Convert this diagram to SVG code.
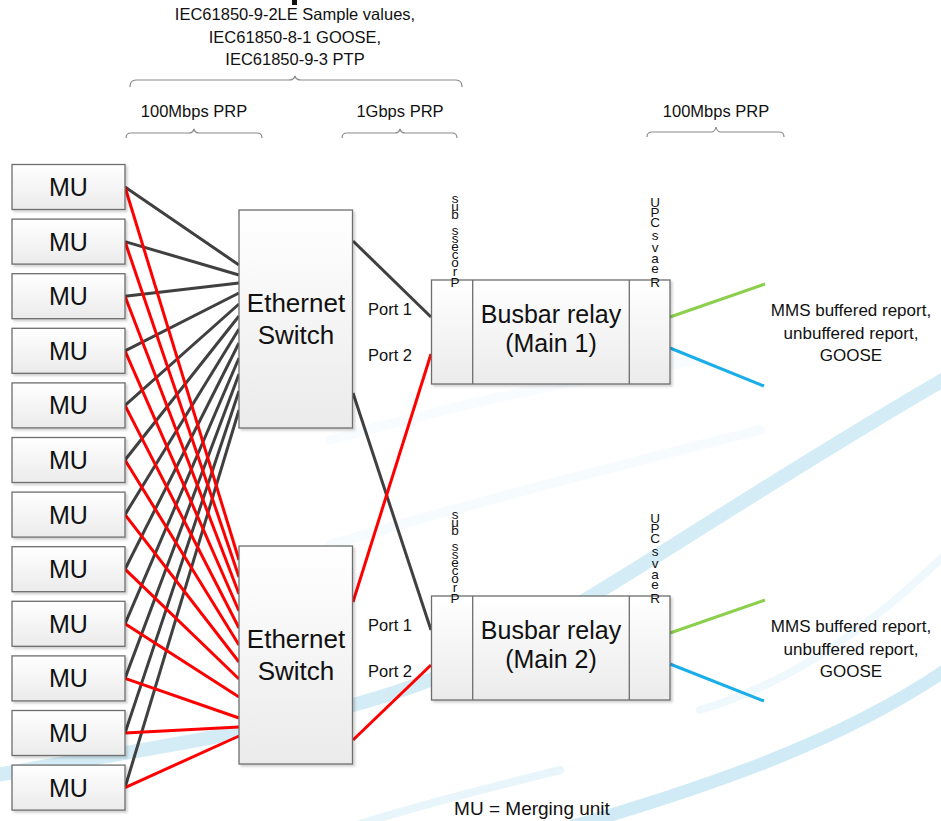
<svg xmlns="http://www.w3.org/2000/svg" width="941" height="821" viewBox="0 0 941 821">
<defs>
<linearGradient id="boxg" x1="0" y1="0" x2="0" y2="1">
<stop offset="0" stop-color="#ffffff"/>
<stop offset="1" stop-color="#ebebeb"/>
</linearGradient>
<filter id="sh" x="-10%" y="-10%" width="130%" height="130%">
<feDropShadow dx="2" dy="2" stdDeviation="1.2" flood-color="#000000" flood-opacity="0.18"/>
</filter>
</defs>
<style>
text{font-family:"Liberation Sans",Arial,sans-serif;fill:#111}
.box{fill:url(#boxg);stroke:#6e6e6e;stroke-width:1.3;filter:url(#sh)}
.div{stroke:#6e6e6e;stroke-width:1.3;fill:none}
.mu{font-size:25px;text-anchor:middle}
.big{font-size:26px;text-anchor:middle}
.lbl{font-size:16.5px;text-anchor:middle}
.port{font-size:16.5px}
.vt{font-size:13.5px;text-anchor:middle}
.blk{stroke:#404040;stroke-width:3;fill:none}
.red{stroke:#ff0000;stroke-width:3;fill:none}
.grn{stroke:#8ccf4d;stroke-width:3;fill:none}
.blu{stroke:#1aaee8;stroke-width:3;fill:none}
.brace{stroke:#8a8a8a;stroke-width:1.2;fill:none}
.sw{fill:none;stroke:#cbe9f5;stroke-linecap:round}
</style>
<rect width="941" height="821" fill="#ffffff"/>
<g id="background">
<path class="sw" d="M -20 778 C 120 752 300 730 430 680 S 700 520 960 370" stroke-width="14" opacity="0.85"/>
<path class="sw" d="M 560 830 C 700 790 850 740 960 660" stroke-width="13" opacity="0.9"/>
<path class="sw" d="M 340 830 C 420 805 480 790 560 770" stroke-width="8" opacity="0.45"/>
<path class="sw" d="M 330 440 C 420 415 560 380 700 360" stroke-width="10" opacity="0.12"/>
<path class="sw" d="M 330 545 C 430 515 560 480 760 430" stroke-width="10" opacity="0.18"/>
<path class="sw" d="M 700 710 C 800 680 880 620 960 540" stroke-width="8" opacity="0.3"/>
<rect x="292" y="0" width="5" height="5" fill="#111"/>
</g>
<g id="annotations">
<text class="lbl" x="295" y="20">IEC61850-9-2LE Sample values,</text>
<text class="lbl" x="295" y="42.5">IEC61850-8-1 GOOSE,</text>
<text class="lbl" x="295" y="65">IEC61850-9-3 PTP</text>
<path class="brace" d="M130 87 Q130 80 136 80 L289 80 Q294 80 295 76 Q296 80 301 80 L456 80 Q462 80 462 87"/>
<text class="lbl" x="194" y="116.5">100Mbps PRP</text>
<path class="brace" d="M126 138 Q126 133 131 133 L189 133 Q193 133 194 129 Q195 133 199 133 L257 133 Q262 133 262 138"/>
<text class="lbl" x="400" y="116.5">1Gbps PRP</text>
<path class="brace" d="M342 138 Q342 133 347 133 L395 133 Q399 133 400 129 Q401 133 405 133 L452 133 Q457 133 457 138"/>
<text class="lbl" x="716" y="116.5">100Mbps PRP</text>
<path class="brace" d="M647 137 Q647 132 652 132 L711 132 Q715 132 716 127 Q717 132 721 132 L779 132 Q784 132 784 137"/>
<text x="851" y="316" font-size="17" text-anchor="middle">MMS buffered report,</text>
<text x="851" y="338.5" font-size="17" text-anchor="middle">unbuffered report,</text>
<text x="851" y="361" font-size="17" text-anchor="middle">GOOSE</text>
<text x="851" y="632" font-size="17" text-anchor="middle">MMS buffered report,</text>
<text x="851" y="654.5" font-size="17" text-anchor="middle">unbuffered report,</text>
<text x="851" y="677" font-size="17" text-anchor="middle">GOOSE</text>
<text x="532" y="815" font-size="19" text-anchor="middle">MU = Merging unit</text>
</g>
<g id="connectors">
<path class="blk" d="M125 187 L239 265"/>
<path class="blk" d="M125 241.6 L239 275"/>
<path class="blk" d="M125 296.2 L239 283"/>
<path class="blk" d="M125 350.8 L239 293"/>
<path class="blk" d="M125 405.4 L239 304"/>
<path class="blk" d="M125 460 L239 316"/>
<path class="blk" d="M125 514.6 L239 329"/>
<path class="blk" d="M125 569.2 L239 343"/>
<path class="blk" d="M125 623.8 L239 358"/>
<path class="blk" d="M125 678.4 L239 374"/>
<path class="blk" d="M125 733 L239 391"/>
<path class="blk" d="M125 787.6 L239 410"/>
<path class="red" d="M125 187 L239 560"/>
<path class="red" d="M125 241.6 L239 577"/>
<path class="red" d="M125 296.2 L239 594"/>
<path class="red" d="M125 350.8 L239 611"/>
<path class="red" d="M125 405.4 L239 628"/>
<path class="red" d="M125 460 L239 645"/>
<path class="red" d="M125 514.6 L239 662"/>
<path class="red" d="M125 569.2 L239 679"/>
<path class="red" d="M125 623.8 L239 697"/>
<path class="red" d="M125 678.4 L239 718"/>
<path class="red" d="M125 733 L239 727"/>
<path class="red" d="M125 787.6 L239 736"/>
<path class="blk" d="M353 241 L431 317"/>
<path class="blk" d="M353 393 L431 630"/>
<path class="red" d="M353 602 L431 354"/>
<path class="red" d="M353 740 L431 665"/>
<path class="grn" d="M670 317 L765 284"/>
<path class="blu" d="M670 348 L764 386"/>
<path class="grn" d="M670 633 L765 600"/>
<path class="blu" d="M670 664 L764 701"/>
</g>
<g id="mu1"><rect class="box" x="12" y="164.5" width="113" height="45"/><text class="mu" x="68.5" y="196">MU</text></g>
<g id="mu2"><rect class="box" x="12" y="219.1" width="113" height="45"/><text class="mu" x="68.5" y="250.6">MU</text></g>
<g id="mu3"><rect class="box" x="12" y="273.7" width="113" height="45"/><text class="mu" x="68.5" y="305.2">MU</text></g>
<g id="mu4"><rect class="box" x="12" y="328.3" width="113" height="45"/><text class="mu" x="68.5" y="359.8">MU</text></g>
<g id="mu5"><rect class="box" x="12" y="382.9" width="113" height="45"/><text class="mu" x="68.5" y="414.4">MU</text></g>
<g id="mu6"><rect class="box" x="12" y="437.5" width="113" height="45"/><text class="mu" x="68.5" y="469">MU</text></g>
<g id="mu7"><rect class="box" x="12" y="492.1" width="113" height="45"/><text class="mu" x="68.5" y="523.6">MU</text></g>
<g id="mu8"><rect class="box" x="12" y="546.7" width="113" height="45"/><text class="mu" x="68.5" y="578.2">MU</text></g>
<g id="mu9"><rect class="box" x="12" y="601.3" width="113" height="45"/><text class="mu" x="68.5" y="632.8">MU</text></g>
<g id="mu10"><rect class="box" x="12" y="655.9" width="113" height="45"/><text class="mu" x="68.5" y="687.4">MU</text></g>
<g id="mu11"><rect class="box" x="12" y="710.5" width="113" height="45"/><text class="mu" x="68.5" y="742">MU</text></g>
<g id="mu12"><rect class="box" x="12" y="765.1" width="113" height="45"/><text class="mu" x="68.5" y="796.6">MU</text></g>
<g id="switch1"><rect class="box" x="239" y="210" width="113.5" height="218"/><text class="big" x="296" y="311.5">Ethernet</text><text class="big" x="296" y="344">Switch</text></g>
<g id="switch2"><rect class="box" x="239" y="546" width="113.5" height="218"/><text class="big" x="296" y="647.5">Ethernet</text><text class="big" x="296" y="680">Switch</text></g>
<g id="relay1">
<rect class="box" x="431.5" y="280" width="238.5" height="104"/>
<path class="div" d="M472.7 280 V384 M629.3 280 V384"/>
<text x="551" y="323" font-size="25" text-anchor="middle">Busbar relay</text>
<text x="551" y="352" font-size="25" text-anchor="middle">(Main 1)</text>
<text class="port" x="368" y="315">Port 1</text>
<text class="port" x="368" y="361">Port 2</text>
<text class="vt"><tspan x="455" y="203">s</tspan><tspan x="455" y="211">u</tspan><tspan x="455" y="219">b</tspan><tspan x="455" y="227"> </tspan><tspan x="455" y="235">s</tspan><tspan x="455" y="243">s</tspan><tspan x="455" y="251">e</tspan><tspan x="455" y="259">c</tspan><tspan x="455" y="267">o</tspan><tspan x="455" y="276">r</tspan><tspan x="455" y="287">P</tspan></text>
<text class="vt"><tspan x="655" y="207">U</tspan><tspan x="655" y="217">P</tspan><tspan x="655" y="227">C</tspan><tspan x="655" y="240">s</tspan><tspan x="655" y="252">v</tspan><tspan x="655" y="263">a</tspan><tspan x="655" y="273">e</tspan><tspan x="655" y="287">R</tspan></text>
</g>
<g id="relay2">
<rect class="box" x="431.5" y="596" width="238.5" height="104"/>
<path class="div" d="M472.7 596 V700 M629.3 596 V700"/>
<text x="551" y="639" font-size="25" text-anchor="middle">Busbar relay</text>
<text x="551" y="668" font-size="25" text-anchor="middle">(Main 2)</text>
<text class="port" x="368" y="631">Port 1</text>
<text class="port" x="368" y="677">Port 2</text>
<text class="vt"><tspan x="455" y="519">s</tspan><tspan x="455" y="527">u</tspan><tspan x="455" y="535">b</tspan><tspan x="455" y="543"> </tspan><tspan x="455" y="551">s</tspan><tspan x="455" y="559">s</tspan><tspan x="455" y="567">e</tspan><tspan x="455" y="575">c</tspan><tspan x="455" y="583">o</tspan><tspan x="455" y="592">r</tspan><tspan x="455" y="603">P</tspan></text>
<text class="vt"><tspan x="655" y="523">U</tspan><tspan x="655" y="533">P</tspan><tspan x="655" y="543">C</tspan><tspan x="655" y="556">s</tspan><tspan x="655" y="568">v</tspan><tspan x="655" y="579">a</tspan><tspan x="655" y="589">e</tspan><tspan x="655" y="603">R</tspan></text>
</g>
</svg>
